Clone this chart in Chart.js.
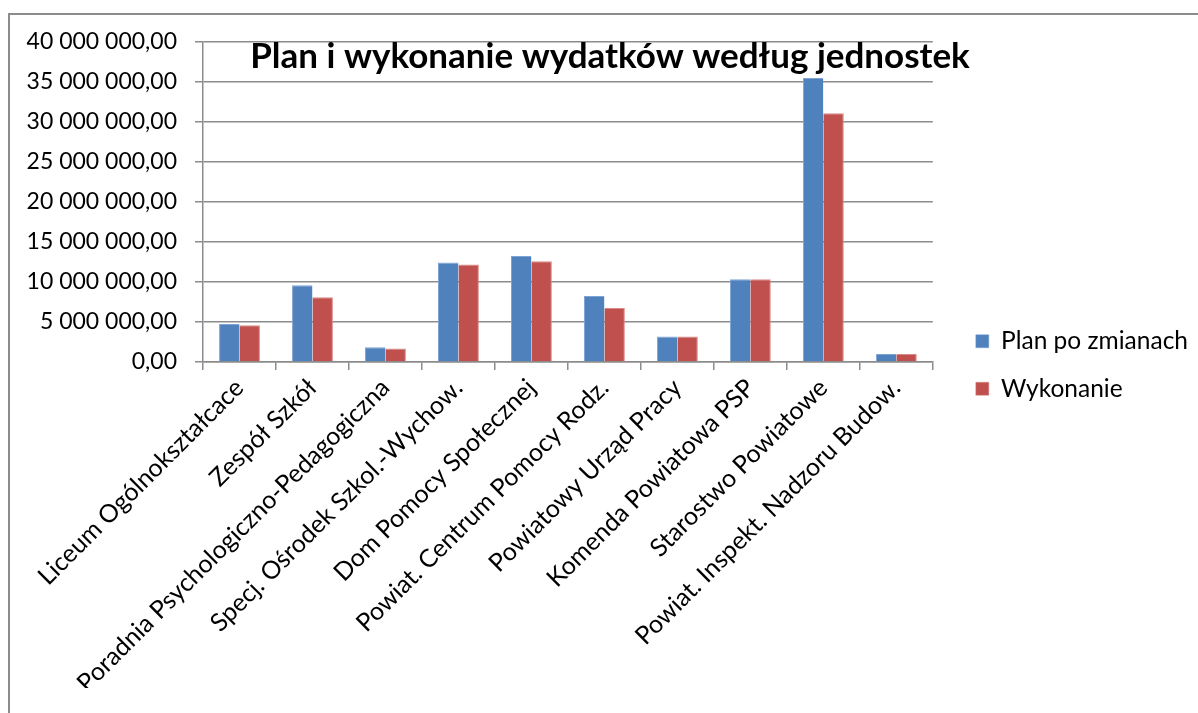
<!DOCTYPE html>
<html>
<head>
<meta charset="utf-8">
<style>
  html, body { margin: 0; padding: 0; background: #fff; overflow: hidden; }
  #frame { position: absolute; left: 8px; top: 13px; width: 1400px; height: 900px; border: 2px solid #8c8c8c; }
  #wrap { position: absolute; left: 0; top: 0; width: 1198px; height: 713px; }
</style>
</head>
<body>
<div id="frame"></div>
<div id="wrap"><canvas id="chart"></canvas></div>
<script src="https://cdn.jsdelivr.net/npm/chart.js"></script>
<script>
const title = 'Plan i wykonanie wydatków według jednostek';
const categories = [
  'Liceum Ogólnokształcace',
  'Zespół Szkół',
  'Poradnia Psychologiczno-Pedagogiczna',
  'Specj. Ośrodek Szkol.-Wychow.',
  'Dom Pomocy Społecznej',
  'Powiat. Centrum Pomocy Rodz.',
  'Powiatowy Urząd Pracy',
  'Komenda Powiatowa PSP',
  'Starostwo Powiatowe',
  'Powiat. Inspekt. Nadzoru Budow.'
];
const planPoZmianach = [4750000, 9600000, 1830000, 12450000, 13250000, 8250000, 3200000, 10330000, 35500000, 1000000];
const wykonanie = [4600000, 8100000, 1700000, 12200000, 12600000, 6750000, 3200000, 10330000, 31100000, 1000000];
const yMax = 40000000;
const yStep = 5000000;

const font = 'Lato';
const gray = '#8c8c8c';

function fmt(v) {
  return String(v).replace(/\B(?=(\d{3})+(?!\d))/g, ' ') + ',00';
}

// title drawn over the plot area, like the original
const overTitle = {
  id: 'overTitle',
  afterDraw(chart) {
    const c = chart.ctx;
    c.save();
    c.font = 'bold 35px ' + font;
    c.fillStyle = '#000';
    c.textAlign = 'center';
    c.textBaseline = 'middle';
    c.fillText(title, 610, 57);
    c.restore();
  }
};

new Chart(document.getElementById('chart'), {
  type: 'bar',
  data: {
    labels: categories,
    datasets: [
      { label: 'Plan po zmianach', data: planPoZmianach, backgroundColor: '#4F81BD', borderColor: '#7fa4d4', borderWidth: { top: 1, left: 1, right: 0, bottom: 0 } },
      { label: 'Wykonanie', data: wykonanie, backgroundColor: '#C0504D', borderColor: '#d98a88', borderWidth: { top: 1, left: 0, right: 1, bottom: 0 } }
    ]
  },
  options: {
    responsive: true,
    maintainAspectRatio: false,
    animation: false,
    categoryPercentage: 0.56,
    barPercentage: 1,
    layout: { padding: { top: 42, left: 0, right: 0, bottom: 25 } },
    plugins: {
      tooltip: { enabled: false },
      legend: {
        position: 'right',
        maxWidth: 246,
        labels: {
          font: { family: font, size: 24.5 },
          color: '#000',
          boxWidth: 13,
          boxHeight: 13,
          padding: 23
        }
      }
    },
    scales: {
      x: {
        grid: { offset: true, drawOnChartArea: false, tickLength: 8, color: gray, lineWidth: 1.5 },
        border: { color: gray, width: 1.5 },
        ticks: {
          font: { family: font, size: 25 },
          color: '#000',
          maxRotation: 45,
          minRotation: 45,
          autoSkip: false
        },
        afterFit: s => { s.height = 326; }
      },
      y: {
        min: 0,
        max: yMax,
        grid: { color: gray, lineWidth: 1.5, tickLength: 8 },
        border: { color: gray, width: 1.5 },
        ticks: {
          stepSize: yStep,
          font: { family: font, size: 23 },
          color: '#000',
          padding: 18,
          callback: v => fmt(v)
        },
        afterFit: s => { s.width = 203; }
      },
      // empty gap between plot and legend
      gap: {
        position: 'right',
        display: true,
        grid: { display: false },
        border: { display: false },
        ticks: { display: false },
        afterFit: s => { s.width = 20; }
      }
    }
  },
  plugins: [overTitle]
});
</script>
</body>
</html>
